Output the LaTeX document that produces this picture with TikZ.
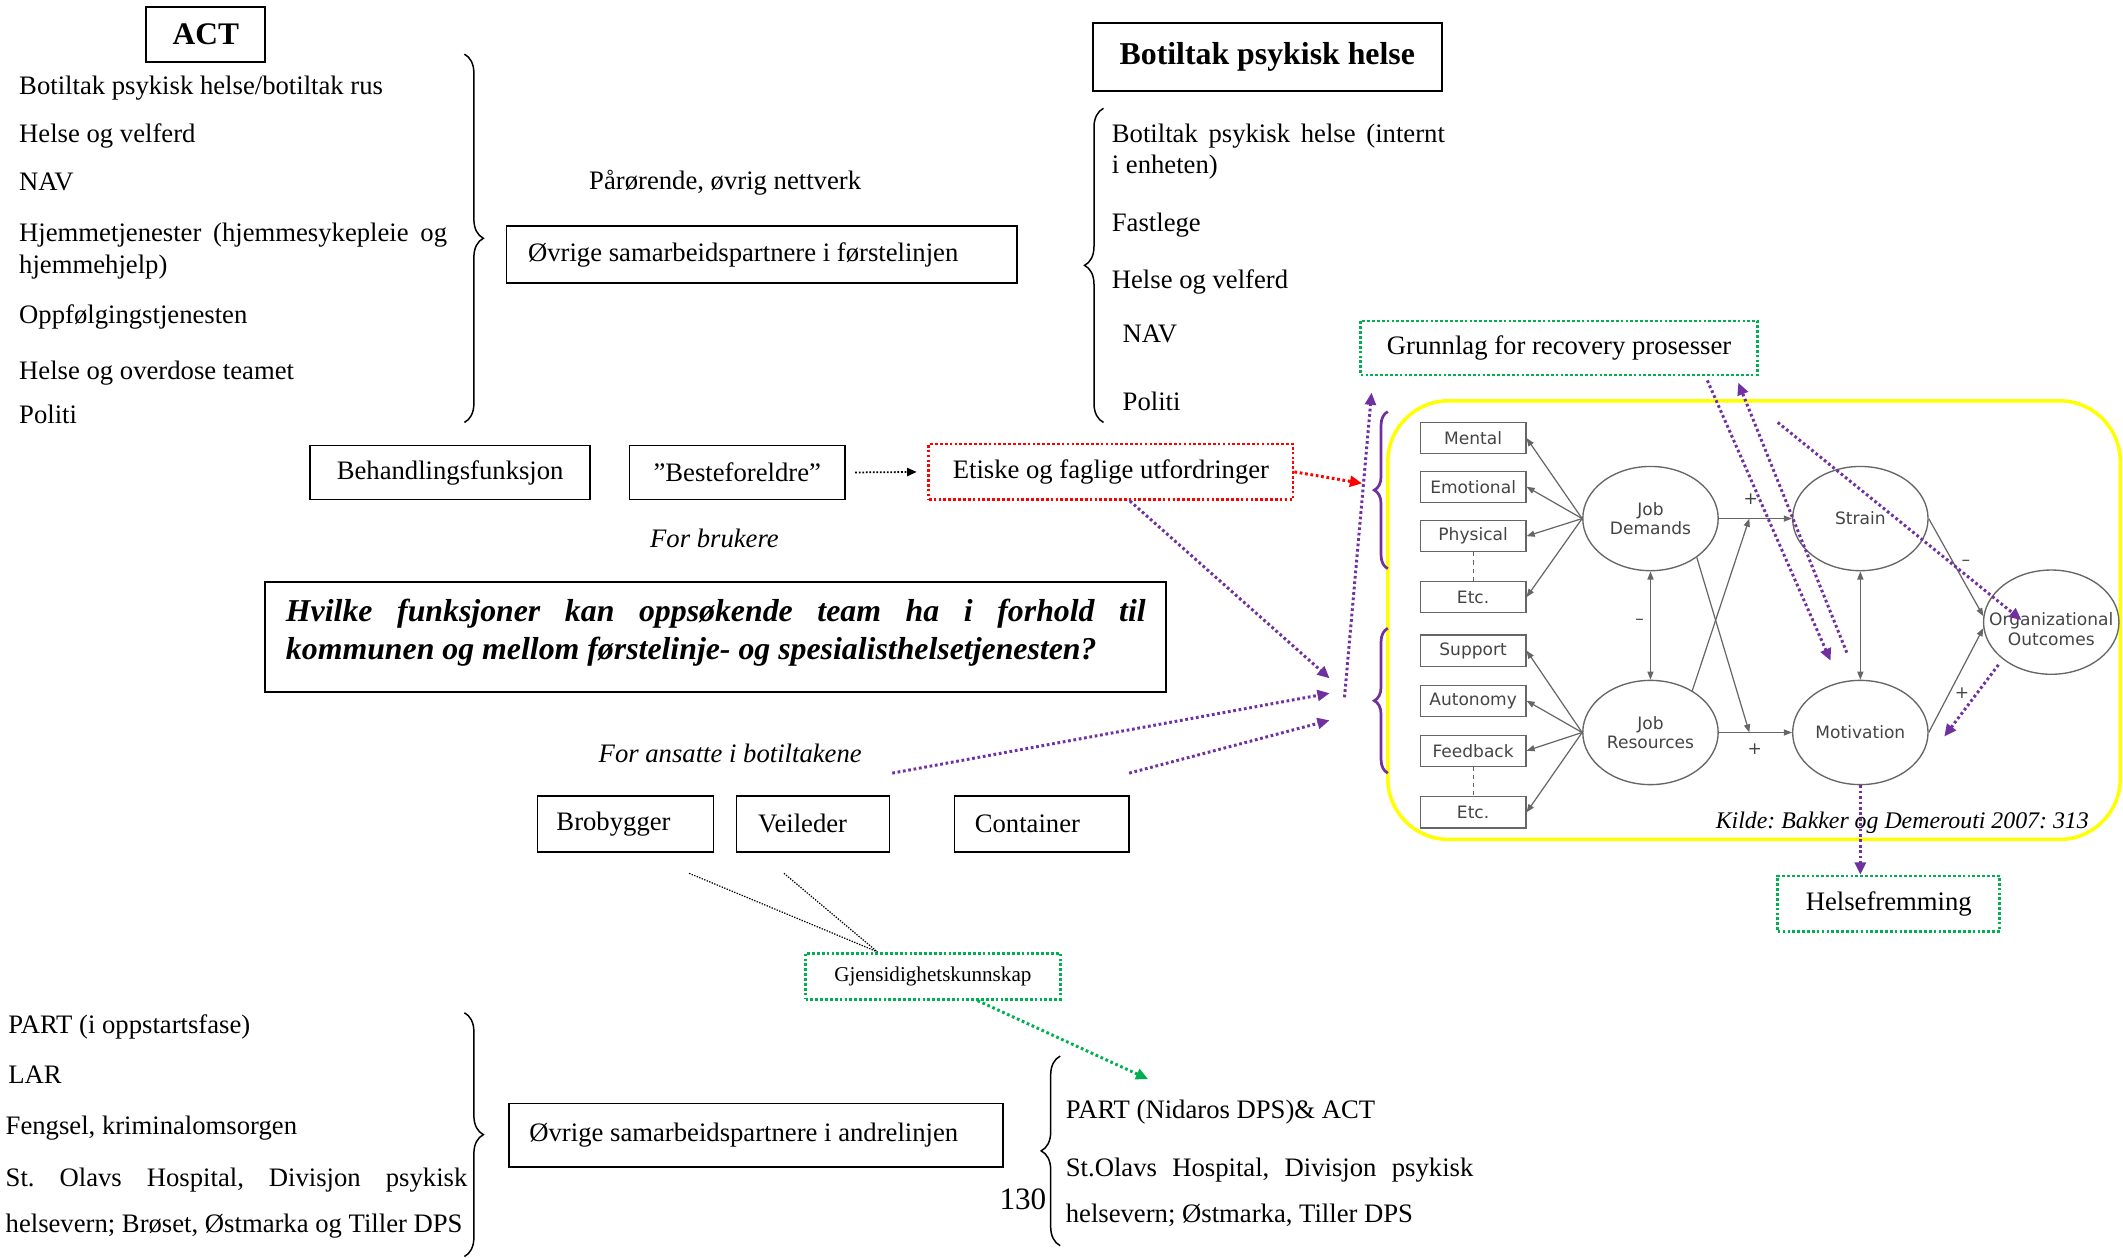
\documentclass[tikz,border=0pt]{standalone}
\usepackage{fontspec}
\setmainfont{Liberation Serif}
\newfontfamily\jdrfont{DejaVu Sans}
\usetikzlibrary{arrows.meta,shapes.geometric,decorations.pathreplacing,calc}
\frenchspacing

\definecolor{vio}{HTML}{7030A0}
\definecolor{grn}{HTML}{00B050}
\definecolor{jtext}{HTML}{444444}
\definecolor{jline}{HTML}{666666}
\definecolor{ylw}{RGB}{255,255,0}

\tikzset{
  body/.style={font=\fontsize{19.7}{24}\selectfont},
  lst/.style={body, anchor=base west, inner sep=0pt},
  ilst/.style={lst, font=\fontsize{19.7}{24}\selectfont\itshape},
  box/.style={draw, line width=1.3pt, body, inner sep=0pt, align=center},
  lbox/.style={box, align=flush left},
  gbox/.style={draw=grn, line width=2pt, dash pattern=on 2pt off 1.6pt, body, inner sep=0pt},
  rbox/.style={draw=red, line width=2pt, dash pattern=on 2pt off 1.6pt, body, inner sep=0pt},
  brc/.style={decorate, decoration={brace, amplitude=14pt}, line width=1.1pt},
  vbrc/.style={decorate, decoration={brace, amplitude=10pt}, draw=vio, line width=2pt},
  vdot/.style={draw=vio, line width=2.2pt, dash pattern=on 2pt off 2pt,
               -{Triangle[length=9pt,width=8pt]}},
  rdot/.style={draw=red, line width=2.2pt, dash pattern=on 2pt off 2pt,
               -{Triangle[length=9pt,width=8pt]}},
  gdot/.style={draw=grn, line width=2.2pt, dash pattern=on 2pt off 2pt,
               -{Triangle[length=9pt,width=8pt]}},
  kdot/.style={draw, line width=0.9pt, dash pattern=on 1pt off 1pt},
  kdotarrow/.style={draw, line width=1.3pt, dash pattern=on 1.3pt off 1.3pt,
               -{Triangle[length=7pt,width=6pt]}},
  jfont/.style={font=\jdrfont\fontsize{12.6}{14.5}\selectfont, text=jtext},
  jbox/.style={draw=jline, line width=0.9pt, minimum width=78pt, minimum height=23pt,
               inner sep=0pt, jfont},
  jell/.style={ellipse, draw=jline, line width=1pt, minimum width=100pt,
               minimum height=77pt, inner sep=0pt},
  jarr/.style={draw=jline, line width=0.9pt, -{Triangle[length=6pt,width=4.5pt]}},
  jarr2/.style={draw=jline, line width=0.9pt,
               {Triangle[length=6pt,width=4.5pt]}-{Triangle[length=6pt,width=4.5pt]}},
  jsign/.style={jfont, inner sep=0pt},
}

\begin{document}
\begin{tikzpicture}[x=1pt, y=-1pt]
\useasboundingbox (0,0) rectangle (1568,929);

% ---------- first line services (top left) ----------
\node[box, minimum width=88pt, minimum height=41pt,
      font=\fontsize{23.2}{26}\selectfont\bfseries] (act) at (152,25.5) {ACT};
\node[lst] (l1) at (14,70)  {Botiltak psykisk helse/botiltak rus};
\node[lst] (l2) at (14,105) {Helse og velferd};
\node[lst] (l3) at (14,141) {NAV};
\node[lst] (l4) at (14,178) {\makebox[316pt][s]{Hjemmetjenester (hjemmesykepleie og}};
\node[lst] (l5) at (14,202) {hjemmehjelp)};
\node[lst] (l6) at (14,239) {Oppfølgingstjenesten};
\node[lst] (l7) at (14,280) {Helse og overdose teamet};
\node[lst] (l8) at (14,313) {Politi};
\draw[brc] (343,40) -- (343,312);

\node[lst] (paar) at (435,140) {Pårørende, øvrig nettverk};
\node[lbox, minimum width=377pt, minimum height=42pt, text width=345pt]
      (forste) at (562.5,188) {Øvrige samarbeidspartnere i førstelinjen};

% ---------- housing services (top right) ----------
\node[box, minimum width=258pt, minimum height=50pt,
      font=\fontsize{23.5}{26}\selectfont\bfseries] (botil) at (936,42) {Botiltak psykisk helse};
\draw[brc] (815,312) -- (815,80);
\node[lst] (r1) at (821,105) {\makebox[246pt][s]{Botiltak psykisk helse (internt}};
\node[lst] (r2) at (821,128) {i enheten)};
\node[lst] (r3) at (821,171) {Fastlege};
\node[lst] (r4) at (821,213) {Helse og velferd};
\node[lst] (r5) at (829,253) {NAV};
\node[lst] (r6) at (829,303) {Politi};

\node[gbox, minimum width=293pt, minimum height=40pt] (grunn) at (1151.5,257)
      {Grunnlag for recovery prosesser};

% ---------- functions ----------
\node[box, minimum width=207pt, minimum height=40pt] (behand) at (332.5,349) {Behandlingsfunksjon};
\node[box, minimum width=159pt, minimum height=40pt] (beste) at (544.5,349) {”Besteforeldre”};
\node[rbox, minimum width=269pt, minimum height=41pt] (etiske) at (820.5,348.5)
      {Etiske og faglige utfordringer};
\node[ilst] (brukere) at (480,404) {For brukere};

\node[draw, line width=1.3pt, minimum width=665pt, minimum height=81pt, inner sep=0pt]
      (qbox) at (528.5,470.5) {};
\node[anchor=west, inner sep=0pt, align=left,
      font=\fontsize{23.5}{28}\selectfont\bfseries\itshape] (qtext) at (211,467.5)
      {\makebox[635pt][s]{Hvilke funksjoner kan oppsøkende team ha i forhold til}\\
       kommunen og mellom førstelinje- og spesialisthelsetjenesten?};

\node[ilst] (ansatte) at (442,563) {For ansatte i botiltakene};
\node[lbox, minimum width=130pt, minimum height=41pt, text width=102pt] (bro) at (462,608.5) {Brobygger};
\node[lbox, minimum width=113pt, minimum height=41pt, text width=81pt] (veil) at (600.5,608.5) {Veileder};
\node[lbox, minimum width=129pt, minimum height=41pt, text width=99pt] (cont) at (769.5,608.5) {Container};

\node[gbox, minimum width=188pt, minimum height=34pt,
      font=\fontsize{15.6}{18}\selectfont] (gjen) at (689,721) {Gjensidighetskunnskap};

% ---------- second line services (bottom) ----------
\node[lst] (b1) at (6,763) {PART (i oppstartsfase)};
\node[lst] (b2) at (6,800) {LAR};
\node[lst] (b3) at (4,838) {Fengsel, kriminalomsorgen};
\node[lst] (b4) at (4,876) {\makebox[341pt][s]{St. Olavs Hospital, Divisjon psykisk}};
\node[lst] (b5) at (4,910) {helsevern; Brøset, Østmarka og Tiller DPS};
\draw[brc] (343,748) -- (343,928);

\node[lbox, minimum width=365pt, minimum height=47pt, text width=335pt]
      (andre) at (558.5,838.5) {Øvrige samarbeidspartnere i andrelinjen};

\node[lst, font=\fontsize{23}{26}\selectfont] (pnum) at (738,893) {130};
\draw[brc] (783,920) -- (783,780);
\node[lst] (s1) at (787,826) {PART (Nidaros DPS)\& ACT};
\node[lst] (s2) at (787,869) {\makebox[301pt][s]{St.Olavs Hospital, Divisjon psykisk}};
\node[lst] (s3) at (787,903) {helsevern; Østmarka, Tiller DPS};

% ---------- job demands-resources model ----------
\node[draw=ylw, line width=2.6pt, rounded corners=45pt, minimum width=541pt,
      minimum height=324pt, inner sep=0pt] (panel) at (1295.5,458) {};

\node[jbox] (mental) at (1088,323.5) {Mental};
\node[jbox] (emo)    at (1088,359.5) {Emotional};
\node[jbox] (phys)   at (1088,396)   {Physical};
\node[jbox] (etc1)   at (1088,441)   {Etc.};
\node[jbox] (supp)   at (1088,480.5) {Support};
\node[jbox] (auto)   at (1088,517.5) {Autonomy};
\node[jbox] (feed)   at (1088,554.5) {Feedback};
\node[jbox] (etc2)   at (1088,600)   {Etc.};
\draw[draw=jline, line width=0.8pt, dashed] (phys.south) -- (etc1.north);
\draw[draw=jline, line width=0.8pt, dashed] (feed.south) -- (etc2.north);

\node[jell, label={[jfont, align=center]center:Job\\Demands}]   (jd)  at (1219,383) {};
\node[jell, label={[jfont, align=center]center:Job\\Resources}] (jr)  at (1219,541) {};
\node[jell, label={[jfont]center:Strain}]                       (str) at (1374,383) {};
\node[jell, label={[jfont]center:Motivation}]                   (mot) at (1374,541) {};
\node[jell, label={[jfont, align=center, yshift=-5pt]center:Organizational\\Outcomes}]
      (org) at (1515,459.5) {};

\foreach \b in {mental,emo,phys,etc1} \draw[jarr] (jd.west) -- (\b.east);
\foreach \b in {supp,auto,feed,etc2} \draw[jarr] (jr.west) -- (\b.east);

\coordinate (jdstr) at (1292,383);
\coordinate (jrmot) at (1292,541);
\draw[jarr] (jd.east) -- (str.west);
\draw[jarr] (jr.east) -- (mot.west);
\draw[jarr] (jr.45) -- (jdstr);
\draw[jarr] (jd.-40) -- (jrmot);
\draw[jarr2] (jd.south) -- (jr.north);
\draw[jarr2] (str.south) -- (mot.north);
\draw[jarr] (str.east) -- (org.175);
\draw[jarr] (mot.east) -- (org.185);

\node[jsign] (p1) at (1293,369) {+};
\node[jsign] (p2) at (1296,553) {+};
\node[jsign] (m1) at (1211,459) {–};
\node[jsign] (m2) at (1452,416) {–};
\node[jsign] (p3) at (1449,512) {+};

\node[lst, font=\fontsize{17.6}{22}\selectfont\itshape] (kilde) at (1267,612)
      {Kilde: Bakker og Demerouti 2007: 313};

\node[gbox, minimum width=164pt, minimum height=41pt] (helse) at (1395,667.5) {Helsefremming};

% ---------- braces grouping demands and resources ----------
\draw[vbrc] (1025,420) -- (1025,304);
\draw[vbrc] (1025,571) -- (1025,464);

% ---------- connectors ----------
\draw[kdotarrow, shorten <=7pt, shorten >=8pt] (beste.east) -- (etiske.west);
\coordinate (redend) at (1006,357);
\draw[rdot] (etiske.east) -- (redend);

\coordinate (c1) at (982,501);
\coordinate (c2) at (982,512);
\coordinate (c3) at (982,532);
\coordinate (st2) at (659,571);
\coordinate (st3) at (834,571);
\coordinate (up0) at (993,515);
\coordinate (up1) at (1013,290);
\draw[vdot] ([xshift=14pt]etiske.south) -- (c1);
\draw[vdot] (st2) -- (c2);
\draw[vdot] (st3) -- (c3);
\draw[vdot] (up0) -- (up1);

\coordinate (a1e) at (1352,488);
\coordinate (a2s) at (1364,482);
\coordinate (a3s) at (1313,312);
\coordinate (a3e) at (1493,458);
\coordinate (a4s) at (1476,491);
\coordinate (a4e) at (1436,544);
\draw[vdot] ([xshift=109.5pt,yshift=-3pt]grunn.south) -- (a1e);
\draw[vdot, shorten >=5pt] (a2s) -- ([xshift=130.5pt]grunn.south);
\draw[vdot] (a3s) -- (a3e);
\draw[vdot] (a4s) -- (a4e);
\draw[vdot] (mot.south) -- (mot.south |- helse.north);

\coordinate (k1) at (509,645);
\coordinate (k2) at (579,645);
\draw[kdot] (k1) -- ([xshift=-41pt]gjen.north);
\draw[kdot] (k2) -- ([xshift=-41pt]gjen.north);
\coordinate (g1) at (848,797);
\draw[gdot] ([xshift=33pt]gjen.south) -- (g1);

\end{tikzpicture}
\end{document}
